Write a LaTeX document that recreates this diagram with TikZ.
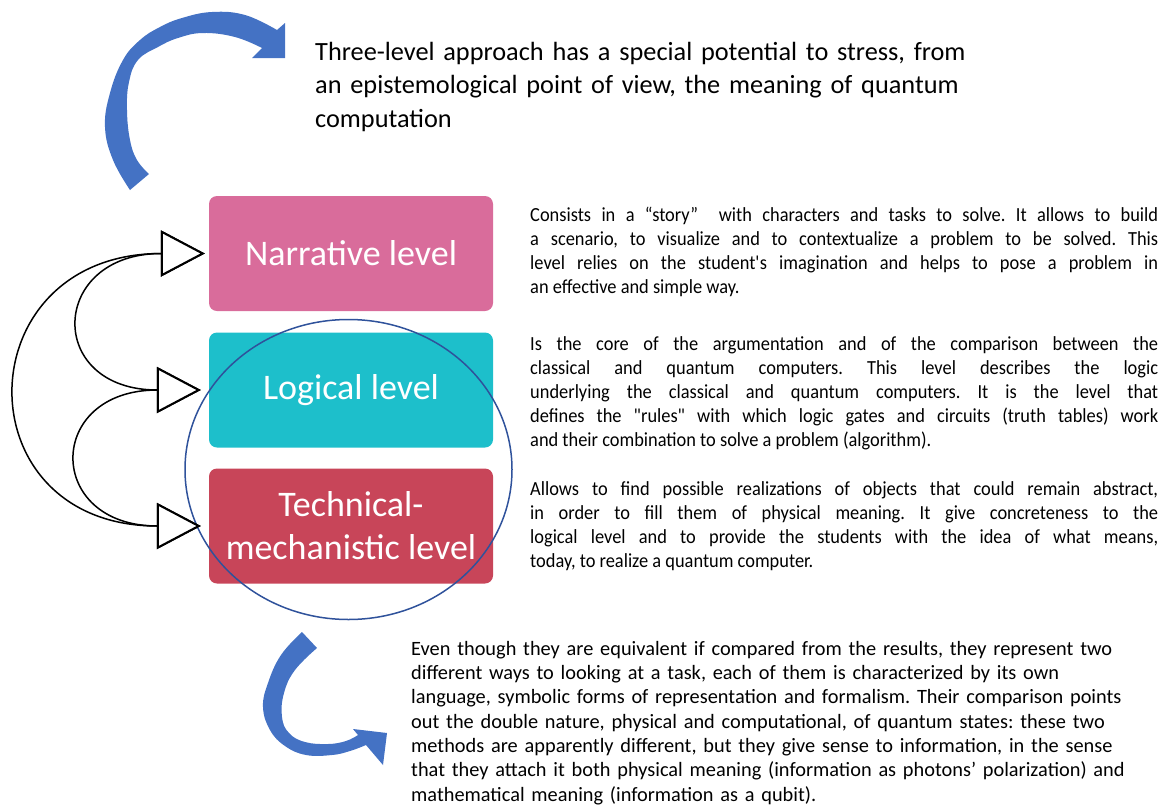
\documentclass[tikz,border=0pt]{standalone}
\usepackage{fontspec}
\setmainfont{Carlito}
\newfontfamily\narrowfont[FakeStretch=0.92]{Carlito}
\usepackage{xcolor}
\definecolor{lvl_pink}{RGB}{217,108,155}
\definecolor{lvl_cyan}{RGB}{29,191,203}
\definecolor{lvl_red}{RGB}{200,69,89}
\definecolor{arr_blue}{RGB}{68,114,196}
\definecolor{ring_blue}{RGB}{47,82,155}
\usetikzlibrary{arrows.meta}
\frenchspacing

\begin{document}
\begin{tikzpicture}[x=1pt,y=-1pt,
    levelbox/.style={rounded corners=8pt,minimum width=284pt,minimum height=115pt,inner sep=2pt,
      text=white,align=center,font=\fontsize{36}{43}\selectfont},
    loopline/.style={line width=1.5pt,<->,>={Triangle[length=44pt,width=46pt,fill=white,line width=2pt]}},
    desc/.style={anchor=north west,inner sep=0pt,text width=628pt,align=justify,
      font=\narrowfont\fontsize{20}{24}\selectfont}]
    \useasboundingbox (0,0) rectangle (1165,809);
    %三つのレベル
    \node[levelbox,fill=lvl_pink] (narr) at (351,253.5) {Narrative level};
    \node[levelbox,fill=lvl_cyan] (logic) at (351,390) {Logical level};
    \node[levelbox,fill=lvl_red] (tech) at (351,526) {Technical-\\mechanistic level};
    %円
    \draw[ring_blue,line width=1.5pt] (348.5,469.5) ellipse [x radius=163.5,y radius=150];
    %左の弧
    \coordinate (narrtip) at ([xshift=-4pt]narr.west);
    \coordinate (logictip) at ([xshift=-8pt]logic.west);
    \coordinate (techtip) at ([xshift=-8pt]tech.west);
    \draw[loopline] (narrtip) .. controls ([xshift=-240pt]narrtip) and ([xshift=-240pt]techtip) .. (techtip);
    \draw[loopline] (narrtip) .. controls ([xshift=-156pt]narrtip) and ([xshift=-156pt]logictip) .. (logictip);
    \draw[loopline] (logictip) .. controls ([xshift=-156pt]logictip) and ([xshift=-156pt]techtip) .. (techtip);
    %青い矢印
    \fill[arr_blue] plot[smooth,tension=0.7] coordinates {(130,190) (113,160) (105,127) (110,93) (123,60) (140,40) (160,27) (182,18) (212,12) (245,15) (277,30)}
      -- (285,23) -- (285,58) -- (252,58) -- (262,48)
      -- plot[smooth,tension=0.7] coordinates {(262,48) (235,37) (203,33) (178,38) (158,47) (138,60) (129,82) (127,110) (130,140) (137,160) (149,174)} -- cycle;
    \fill[arr_blue] plot[smooth,tension=0.7] coordinates {(302,632) (281,655) (268,683) (263,707) (270,730) (285,746) (306,755) (332,755) (350,751) (366,745)}
      -- (383,765) -- (387,733) -- (353,729) -- (358,735)
      -- plot[smooth,tension=0.7] coordinates {(358,735) (346,741) (328,744) (305,742) (289,733) (282,717) (284,693) (295,670) (317,648)} -- cycle;
    %文章
    \node[anchor=north west,inner sep=0pt,text width=700pt,align=left,font=\fontsize{26.3}{33.5}\selectfont] (head) at (315,42)
      {Three-level approach has a special potential to stress, from\\
       an epistemological point of view, the meaning of quantum\\
       computation};
    \node[desc] (narrdesc) at (530,207)
      {Consists in a “story”\ \ with characters and tasks to solve. It allows to build\linebreak
       a scenario, to visualize and to contextualize a problem to be solved. This\linebreak
       level relies on the student\textquotesingle s imagination and helps to pose a problem in\linebreak
       an effective and simple way.};
    \node[desc] (logicdesc) at (530,336)
      {Is the core of the argumentation and of the comparison between the\linebreak
       classical and quantum computers. This level describes the logic\linebreak
       underlying the classical and quantum computers. It is the level that\linebreak
       defines the "rules" with which logic gates and circuits (truth tables) work\linebreak
       and their combination to solve a problem (algorithm).};
    \node[desc] (techdesc) at (530,481)
      {Allows to find possible realizations of objects that could remain abstract,\linebreak
       in order to fill them of physical meaning. It give concreteness to the\linebreak
       logical level and to provide the students with the idea of what means,\linebreak
       today, to realize a quantum computer.};
    \node[anchor=north west,inner sep=0pt,text width=750pt,align=left,font=\fontsize{20.35}{24.3}\selectfont] (summary) at (411,641)
      {Even though they are equivalent if compared from the results, they represent two\\
       different ways to looking at a task, each of them is characterized by its own\\
       language, symbolic forms of representation and formalism. Their comparison points\\
       out the double nature, physical and computational, of quantum states: these two\\
       methods are apparently different, but they give sense to information, in the sense\\
       that they attach it both physical meaning (information as photons’ polarization) and\\
       mathematical meaning (information as a qubit).};
\end{tikzpicture}
\end{document}
